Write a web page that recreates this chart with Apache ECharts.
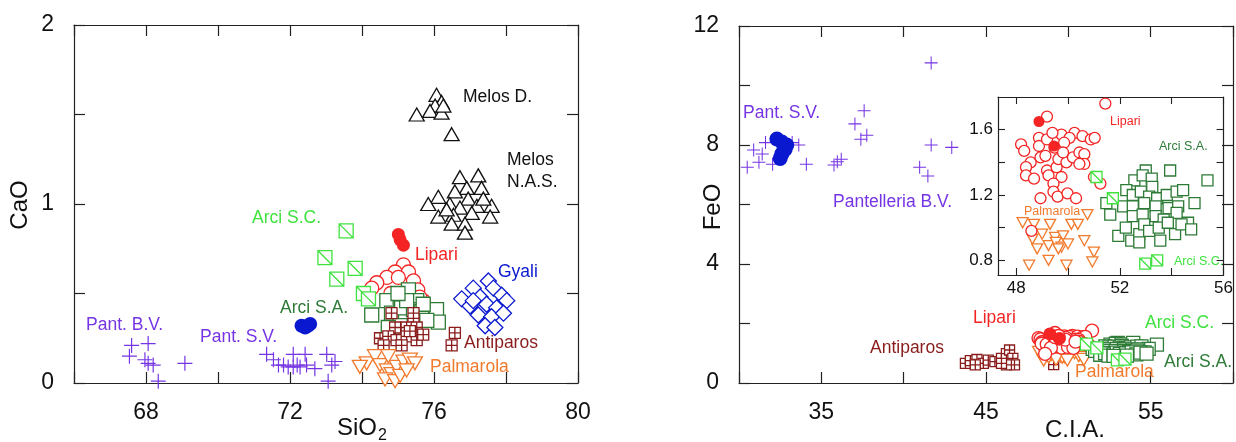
<!doctype html>
<html>
<head>
<meta charset="utf-8"/>
<title>CaO and FeO obsidian plots</title>
<script src="https://cdn.jsdelivr.net/npm/echarts@6/dist/echarts.min.js"></script>
<style>
*{margin:0;padding:0;}
body{background:#fff;}
#main{width:1236px;height:442px;}
</style>
</head>
<body>
<div id="main"></div>
<script type="text/javascript">

// ---------- left panel: SiO2 vs CaO ----------
var pantCross_L = [[67.60,0.21],[68.06,0.22],[67.54,0.15],[67.97,0.13],[68.20,0.10],[68.06,0.11],[68.34,0.01],[69.08,0.11],
  [71.35,0.16],[71.54,0.13],[71.68,0.10],[71.82,0.10],[71.95,0.09],[72.09,0.16],[72.09,0.09],[72.28,0.09],
  [72.42,0.16],[72.46,0.10],[72.69,0.08],[73.02,0.16],[73.25,0.12],[73.16,0.10],[73.06,0.01],[72.20,0.10]];
var pantSV_L = [[72.32,0.32],[72.56,0.33],[72.42,0.31],[72.50,0.32]];
var lipariOpen_L = [[75.15,0.66],[74.92,0.62],[75.29,0.62],[74.69,0.59],[75.01,0.59],[74.41,0.56],[75.43,0.57],
  [74.27,0.53],[75.70,0.46],[74.80,0.50],[75.55,0.52],[75.60,0.48]];
var lipariFull_L = [[75.01,0.83],[75.15,0.77],[75.06,0.80]];
var arciSC_L = [[73.56,0.85],[72.97,0.70],[73.30,0.58],[73.81,0.64],[74.04,0.50],[74.18,0.47]];
var arciSA_L = [[74.27,0.38],[74.69,0.46],[75.06,0.48],[75.29,0.52],[75.52,0.46],[74.82,0.39],[75.10,0.42],
  [75.43,0.41],[75.66,0.40],[76.07,0.41],[76.12,0.34],[75.06,0.32],[74.73,0.31],[75.80,0.35],[75.24,0.46],
  [75.00,0.50],[75.70,0.44]];
var antiparos_L = [[74.82,0.39],[75.43,0.39],[75.43,0.33],[74.92,0.31],[75.24,0.31],[75.52,0.31],[74.50,0.25],
  [74.73,0.26],[74.96,0.24],[75.24,0.26],[75.52,0.24],[75.10,0.21],[76.58,0.28],[76.49,0.21],[75.33,0.29],
  [75.70,0.27],[74.60,0.21]];
var palmarola_L = [[74.13,0.11],[74.36,0.15],[74.50,0.10],[74.69,0.07],[74.82,0.05],[74.96,0.09],[75.15,0.12],
  [75.33,0.13],[75.47,0.11],[74.64,0.02],[74.92,0.01],[75.06,0.04],[73.94,0.09],[74.73,0.15],[75.24,0.07]];
var gyali_L = [[77.51,0.57],[77.09,0.53],[77.65,0.53],[77.88,0.49],[76.77,0.47],[77.28,0.48],[78.02,0.46],
  [77.00,0.43],[77.46,0.44],[77.74,0.42],[77.23,0.38],[77.60,0.37],[77.93,0.39],[77.42,0.32],[77.69,0.31],[77.09,0.46]];
var melosD_L = [[76.07,1.61],[76.21,1.57],[76.03,1.55],[75.89,1.52],[75.52,1.50],[76.21,1.51],[76.26,1.55],[76.49,1.39]];
var melosNAS_L = [[76.72,1.15],[77.23,1.16],[77.32,1.09],[76.91,1.09],[76.58,1.07],[76.12,1.04],[75.84,1.00],
  [76.95,1.03],[76.44,1.00],[76.72,0.98],[77.19,0.99],[77.60,0.99],[76.12,0.93],[76.54,0.94],[77.05,0.95],
  [77.56,0.93],[76.49,0.89],[76.86,0.89],[76.86,0.84],[76.35,0.97],[77.37,1.03]];

// ---------- right panel: C.I.A. vs FeO ----------
var pantCross_R = [[41.67,10.76],[37.60,9.15],[37.04,8.71],[37.40,8.19],[37.76,8.33],[41.67,8.00],[42.92,7.92],
  [40.97,7.25],[41.47,6.96],[36.21,7.52],[35.97,7.44],[35.77,7.33],[34.09,7.35],[32.04,7.35],[31.21,7.42],
  [30.50,7.25],[30.89,7.83],[31.41,7.70],[31.61,8.08],[33.23,8.08],[33.63,8.00]];
var pantSV_R = [[32.30,8.20],[32.60,8.10],[32.90,8.00],[32.60,7.70],[32.50,7.55],[32.80,7.85]];
var antiparos_R = [[43.75,0.66],[44.05,0.75],[44.45,0.79],[44.84,0.66],[45.14,0.77],[45.54,0.72],[45.94,0.83],
  [46.24,0.99],[46.43,1.11],[46.63,0.83],[46.73,0.61],[46.24,0.61],[45.94,0.66],[44.35,0.61],[49.11,0.62]];

// Lipari, Palmarola and Arci: same samples in the main panel and in the inset
var lipariOpen = [[51.44,1.76],[49.19,1.68],[48.88,1.55],[48.19,1.51],[48.31,1.47],[48.88,1.50],[49.75,1.57],
  [50.25,1.58],[50.06,1.55],[50.56,1.56],[50.88,1.54],[51.03,1.55],[48.56,1.40],[48.94,1.43],[49.13,1.44],
  [48.38,1.37],[48.38,1.32],[48.69,1.30],[49.19,1.35],[49.25,1.32],[49.56,1.37],[49.63,1.42],[49.75,1.31],
  [49.94,1.40],[50.19,1.43],[50.44,1.46],[50.63,1.45],[50.63,1.39],[49.44,1.27],[49.44,1.22],[49.60,1.19],
  [49.98,1.21],[50.31,1.18],[48.94,1.18],[48.59,0.98],[51.00,1.31],[51.25,1.27],[49.85,1.52],[49.48,1.49],
  [49.81,1.46],[49.19,1.54],[50.44,1.39],[49.40,1.58]];
var lipariFull = [[48.88,1.65],[49.46,1.50]];
var palmarola = [[48.25,1.03],[48.69,1.02],[49.31,1.02],[50.13,1.02],[50.38,1.02],[50.75,1.08],[48.63,0.93],
  [49.00,0.96],[49.50,0.94],[49.81,0.95],[49.25,0.89],[49.53,0.91],[49.75,0.88],[50.00,0.90],[48.81,0.87],
  [49.63,0.87],[50.63,0.92],[51.00,0.85],[48.50,0.77],[49.25,0.80],[49.94,0.77],[50.94,0.79]];
var arciSA = [[53.00,1.35],[52.56,1.29],[52.88,1.32],[53.23,1.30],[53.94,1.35],[55.38,1.29],[51.48,1.15],
  [51.63,1.08],[52.25,1.23],[52.50,1.20],[52.81,1.22],[53.25,1.25],[53.13,1.19],[53.44,1.18],[53.81,1.20],
  [54.19,1.22],[54.44,1.23],[54.88,1.15],[52.13,1.13],[52.50,1.13],[52.94,1.15],[53.38,1.13],[53.88,1.12],
  [54.25,1.13],[52.50,1.07],[52.88,1.08],[53.38,1.07],[53.69,1.05],[54.19,1.09],[54.63,1.03],[51.94,0.95],
  [52.23,1.00],[52.44,0.92],[52.75,0.96],[52.94,1.02],[53.13,0.98],[53.50,1.00],[53.85,1.03],[54.13,0.96],
  [54.38,1.02],[54.75,0.99],[52.75,0.91],[53.56,0.92]];
var arciSC = [[51.10,1.31],[51.73,1.18],[52.98,0.78],[53.44,0.80]];

var FONT = '"Liberation Sans", Arial, sans-serif';
var C = {
  purple: '#7635e4', blue: '#0a18cf', red: '#f42424', lgreen: '#3fe23f',
  dgreen: '#2d7b36', dred: '#8a1c1c', orange: '#f27a2c', black: '#111'
};
var PLUS = 'path://M0,9.2H20V10.8H0Z M9.2,0H10.8V20H9.2Z';
var SQ_DIAG = 'path://M0,0L10,0L10,10L0,10Z M0,0L10,10';
var SQ_GRID = 'path://M0,0L10,0L10,10L0,10Z M5,0L5,10 M0,5L10,5';

var chartDom = document.getElementById('main');
var myChart = echarts.init(chartDom);

// each grid owns two x axes and two y axes (bottom/top, left/right); the data goes on the first pair
function sc(data, grid, symbol, size, color, fill, rotate) {
  return {
    type: 'scatter', xAxisIndex: grid * 2, yAxisIndex: grid * 2, data: data,
    symbol: symbol, symbolSize: size, symbolRotate: rotate || 0,
    animation: false, silent: true,
    itemStyle: fill ? { color: fill, borderColor: color, borderWidth: 1.3, opacity: 1 }
                    : { color: color, borderWidth: 0, opacity: 1 }
  };
}

var axLine = { onZero: false, lineStyle: { color: '#222', width: 1.2 } };
function xAx(grid, min, max, interval, labelFn, show, pos) {
  return {
    type: 'value', gridIndex: grid, position: pos, min: min, max: max, interval: interval,
    axisLine: axLine, splitLine: { show: false },
    axisTick: { inside: true, length: 11, lineStyle: { color: '#222', width: 1.2 } },
    axisLabel: { show: show, margin: 18, fontSize: 23, color: '#111', fontFamily: FONT, formatter: labelFn }
  };
}
function yAx(grid, min, max, interval, labelFn, show, pos) {
  return {
    type: 'value', gridIndex: grid, position: pos, min: min, max: max, interval: interval,
    axisLine: axLine, splitLine: { show: false },
    axisTick: { inside: true, length: 11, lineStyle: { color: '#222', width: 1.2 } },
    axisLabel: { show: show, margin: 20, fontSize: 23, color: '#111', fontFamily: FONT, formatter: labelFn }
  };
}
function everyN(n, off) {
  return function (v) { return Math.abs(((v - off) % n)) < 1e-6 ? String(v) : ''; };
}
function insetAx(isX, pos, show) {
  return {
    type: 'value', gridIndex: 2, position: pos,
    min: isX ? 47.3 : 0.71, max: isX ? 56 : 1.8,
    axisLine: axLine, splitLine: { show: false },
    axisTick: { inside: true, length: 7, customValues: isX ? [48, 50, 52, 54, 56] : [0.8, 1.0, 1.2, 1.4, 1.6],
      lineStyle: { color: '#222', width: 1.1 } },
    axisLabel: { show: show, margin: 5, fontSize: 17, color: '#111', fontFamily: FONT,
      customValues: isX ? [48, 52, 56] : [0.8, 1.2, 1.6] }
  };
}

// text annotations (pixel layout)
var notes = [
  ['Melos D.', 463, 97, C.black, 17.5], ['Melos', 507, 160, C.black, 17.5], ['N.A.S.', 507, 182, C.black, 17.5],
  ['Arci S.C.', 252, 218, C.lgreen, 17.5], ['Lipari', 415, 255, C.red, 17.5], ['Gyali', 498, 272, C.blue, 17.5],
  ['Arci S.A.', 280, 308, C.dgreen, 17.5], ['Antiparos', 464, 343, C.dred, 17.5], ['Palmarola', 430, 367, C.orange, 17.5],
  ['Pant. S.V.', 200, 337, C.purple, 17.5], ['Pant. B.V.', 86, 325, C.purple, 17.5],
  ['Pant. S.V.', 743, 113, C.purple, 17.5], ['Pantelleria B.V.', 833, 202, C.purple, 17.5],
  ['Lipari', 973, 318, C.red, 17.5], ['Antiparos', 870, 348, C.dred, 17.5], ['Arci S.C.', 1145, 323, C.lgreen, 17.5],
  ['Arci S.A.', 1164, 362, C.dgreen, 17.5], ['Palmarola', 1075, 372, C.orange, 17.5],
  ['Lipari', 1110, 122, C.red, 12.5], ['Arci S.A.', 1159, 147, C.dgreen, 12.5],
  ['Palmarola', 1024, 212, C.orange, 12.5], ['Arci S.C.', 1174, 262, C.lgreen, 12.5]
];
var graphics = notes.map(function (n) {
  return { type: 'text', x: n[1], y: n[2], z: 50,
    style: { text: n[0], fill: n[3], fontSize: n[4], fontFamily: FONT, textAlign: 'left', textVerticalAlign: 'middle' } };
});
graphics.push(
  { type: 'text', x: 20, y: 205, rotation: Math.PI / 2, style: { text: 'CaO', fill: '#111', fontSize: 24, fontFamily: FONT, textAlign: 'center', textVerticalAlign: 'middle' } },
  { type: 'text', x: 713, y: 207, rotation: Math.PI / 2, style: { text: 'FeO', fill: '#111', fontSize: 24, fontFamily: FONT, textAlign: 'center', textVerticalAlign: 'middle' } },
  { type: 'text', x: 337, y: 428, style: { text: 'SiO', fill: '#111', fontSize: 24, fontFamily: FONT, textAlign: 'left', textVerticalAlign: 'middle' } },
  { type: 'text', x: 378, y: 436, style: { text: '2', fill: '#111', fontSize: 16, fontFamily: FONT, textAlign: 'left', textVerticalAlign: 'middle' } },
  { type: 'text', x: 1075, y: 430, style: { text: 'C.I.A.', fill: '#111', fontSize: 24, fontFamily: FONT, textAlign: 'center', textVerticalAlign: 'middle' } }
);

var option = {
  animation: false,
  backgroundColor: '#fff',
  grid: [
    { left: 74, top: 25, width: 504, height: 358 },
    { left: 739, top: 26, width: 504, height: 357 },
    { left: 998, top: 97, width: 232, height: 178, show: true, backgroundColor: '#fff', borderWidth: 0 }
  ],
  xAxis: [
    xAx(0, 66, 80, 2, everyN(4, 0), true, 'bottom'),
    xAx(0, 66, 80, 2, null, false, 'top'),
    xAx(1, 30, 60, 5, everyN(10, 35), true, 'bottom'),
    xAx(1, 30, 60, 5, null, false, 'top'),
    insetAx(true, 'bottom', true),
    insetAx(true, 'top', false)
  ],
  yAxis: [
    yAx(0, 0, 2, 0.5, everyN(1, 0), true, 'left'),
    yAx(0, 0, 2, 0.5, null, false, 'right'),
    yAx(1, 0, 12, 2, everyN(4, 0), true, 'left'),
    yAx(1, 0, 12, 2, null, false, 'right'),
    insetAx(false, 'left', true),
    insetAx(false, 'right', false)
  ],
  graphic: graphics,
  series: [
    // left
    sc(lipariOpen_L, 0, 'circle', 14, C.red, '#fff'),
    sc(lipariFull_L, 0, 'circle', 13, C.red),
    sc(arciSC_L, 0, SQ_DIAG, 14, C.lgreen, '#fff'),
    sc(arciSA_L, 0, 'rect', 14, C.dgreen, '#fff'),
    sc(antiparos_L, 0, SQ_GRID, 11, C.dred, '#fff'),
    sc(palmarola_L, 0, 'triangle', [15, 13], C.orange, '#fff', 180),
    sc(gyali_L, 0, 'diamond', 16, C.blue, '#fff'),
    sc(melosD_L, 0, 'triangle', [15, 13], C.black, '#fff'),
    sc(melosNAS_L, 0, 'triangle', [15, 13], C.black, '#fff'),
    sc(pantCross_L, 0, PLUS, 15, C.purple),
    sc(pantSV_L, 0, 'circle', 14, C.blue),
    // right main
    sc(pantCross_R, 1, PLUS, 13, C.purple),
    sc(pantSV_R, 1, 'circle', 15, C.blue),
    sc(antiparos_R, 1, SQ_GRID, 10, C.dred, '#fff'),
    sc(palmarola, 1, 'triangle', [14, 12], C.orange, '#fff', 180),
    sc(lipariOpen, 1, 'circle', 13, C.red, '#fff'),
    sc(arciSA, 1, 'rect', 13, C.dgreen, '#fff'),
    sc(arciSC, 1, SQ_DIAG, 12, C.lgreen, '#fff'),
    sc(lipariFull, 1, 'circle', 13, C.red),
    // inset
    sc(palmarola, 2, 'triangle', [11, 10], C.orange, '#fff', 180),
    sc(lipariOpen, 2, 'circle', 11, C.red, '#fff'),
    sc(lipariFull, 2, 'circle', 11, C.red),
    sc(arciSA, 2, 'rect', 11, C.dgreen, '#fff'),
    sc(arciSC, 2, SQ_DIAG, 11, C.lgreen, '#fff')
  ]
};

myChart.setOption(option);

</script>
</body>
</html>
